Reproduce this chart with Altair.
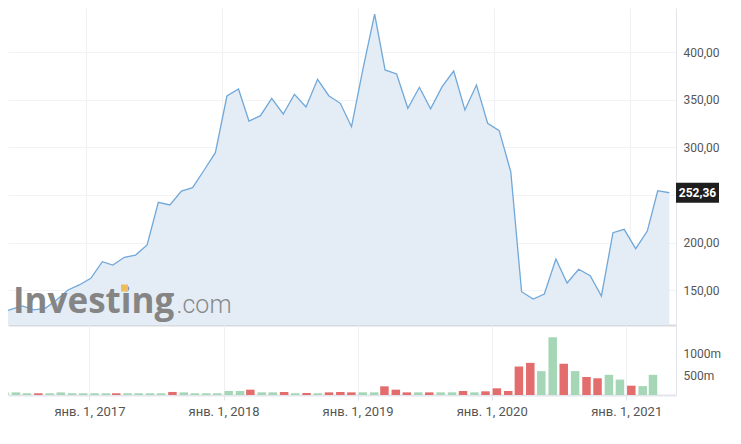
import altair as alt
import pandas as pd

# Monthly observations (mid-month)
dates = [
    "2016-05-15", "2016-06-15", "2016-07-15", "2016-08-15", "2016-09-15", "2016-10-15",
    "2016-11-15", "2016-12-15",
    "2017-01-15", "2017-02-15", "2017-03-15", "2017-04-15", "2017-05-15", "2017-06-15",
    "2017-07-15", "2017-08-15", "2017-09-15", "2017-10-15", "2017-11-15", "2017-12-15",
    "2018-01-15", "2018-02-15", "2018-03-15", "2018-04-15", "2018-05-15", "2018-06-15",
    "2018-07-15", "2018-08-15", "2018-09-15", "2018-10-15", "2018-11-15", "2018-12-15",
    "2019-01-15", "2019-02-15", "2019-03-15", "2019-04-15", "2019-05-15", "2019-06-15",
    "2019-07-15", "2019-08-15", "2019-09-15", "2019-10-15", "2019-11-15", "2019-12-15",
    "2020-01-15", "2020-02-15", "2020-03-15", "2020-04-15", "2020-05-15", "2020-06-15",
    "2020-07-15", "2020-08-15", "2020-09-15", "2020-10-15", "2020-11-15", "2020-12-15",
    "2021-01-15", "2021-02-15", "2021-03-15", "2021-04-15",
]

price = [
    125.5, 129.7, 133.2, 129.0, 130.7, 139.5, 150.0, 155.3,
    162.3, 179.8, 176.3, 184.4, 186.8, 197.4, 242.3, 239.5, 254.2, 257.7, 276.3, 294.5,
    354.2, 361.6, 327.9, 333.5, 351.8, 335.3, 356.0, 342.6, 371.8, 354.5, 346.5, 321.9,
    383.4, 440.5, 381.6, 377.4, 341.3, 363.4, 340.8, 364.0, 380.5, 339.5, 365.8, 325.5,
    317.7, 274.5, 148.2, 140.5, 145.8, 182.6, 157.4, 171.8, 165.0, 143.7, 210.3, 213.8,
    193.5, 212.0, 254.5, 252.36,
]

# Volume in millions (no bar for the current month)
volume_m = [
    60, 60, 40, 40, 40, 60, 40, 40,
    40, 40, 40, 40, 40, 40, 40, 70, 60, 40, 40, 40,
    92, 92, 123, 61, 61, 69, 40, 46, 40, 61, 69, 61,
    61, 61, 200, 123, 61, 61, 61, 61, 61, 92, 61, 85,
    154, 92, 655, 740, 550, 1330, 720, 550, 415, 385, 465, 355,
    215, 205, 465,
]

direction = [
    "u", "u", "u", "d", "u", "u", "u", "u",
    "u", "u", "d", "u", "u", "u", "u", "d", "u", "u", "u", "u",
    "u", "u", "d", "u", "u", "d", "u", "d", "u", "d", "d", "d",
    "u", "u", "d", "d", "d", "u", "d", "u", "u", "d", "u", "d",
    "d", "d", "d", "d", "u", "u", "d", "u", "d", "d", "u", "u",
    "d", "u", "u",
]

tick_years = [2017, 2018, 2019, 2020, 2021]
price_ticks = [150, 200, 250, 300, 350, 400]
volume_ticks = [500, 1000]
last_label = "252,36"

price_df = pd.DataFrame({"date": dates, "price": price})
vol_df = pd.DataFrame({"date": dates[:len(volume_m)], "vol": volume_m, "dir": direction})
box_df = pd.DataFrame({"price": [price[-1]], "lbl": [last_label]})

PRICE_MIN, PRICE_MAX = 113.16, 446.84
W = 668

x_scale = alt.Scale(
    type="utc",
    domain=[alt.DateTime(year=2016, month=6, date=7, utc=True),
            alt.DateTime(year=2021, month=5, date=3, utc=True)],
)
tick_vals = [alt.DateTime(year=y, month=1, date=1, utc=True) for y in tick_years]

top_x_axis = alt.Axis(values=tick_vals, grid=True, gridColor="#eef0f3", labels=False,
                      ticks=False, domain=True, domainColor="#d8dade", domainWidth=2, title=None)
bot_x_axis = alt.Axis(values=tick_vals, grid=True, gridColor="#eef0f3", ticks=True, tickSize=5,
                      tickColor="#dfe2e8", domain=True, domainColor="#e3e6ec", domainWidth=2,
                      labelFontSize=13, labelPadding=5, title=None,
                      labelExpr="'янв. 1, ' + utcFormat(datum.value, '%Y')")

y_scale = alt.Scale(domain=[PRICE_MIN, PRICE_MAX], nice=False, zero=False)
y_axis = alt.Axis(orient="right", values=price_ticks, grid=True, gridColor="#f2f3f5",
                  ticks=False, domain=True, domainColor="#e3e5ea", labelPadding=7,
                  labelFontSize=12, title=None,
                  labelExpr="datum.value == 250 ? '' : replace(format(datum.value, '.2f'), '.', ',')")

xe = alt.X("date:T", scale=x_scale, axis=top_x_axis)
ye = alt.Y("price:Q", scale=y_scale, axis=y_axis)

area = alt.Chart(price_df).mark_area(color="#e4edf6", clip=True).encode(
    x=xe, y=ye, y2=alt.datum(PRICE_MIN))
line = alt.Chart(price_df).mark_line(color="#70a8d9", strokeWidth=1.3, clip=True).encode(
    x=xe, y=ye)

wm1 = alt.Chart(pd.DataFrame({"t": ["Investing"]})).mark_text(
    align="left", baseline="alphabetic", font="Open Sans", fontSize=35, fontWeight="bold",
    color="#858585").encode(text="t:N", x=alt.value(5), y=alt.value(305))
wm2 = alt.Chart(pd.DataFrame({"t": [".com"]})).mark_text(
    align="left", baseline="alphabetic", font="Roboto", fontSize=25, fontWeight=300,
    color="#8a8a8a").encode(text="t:N", x=alt.value(168.5), y=alt.value(305))
dot = alt.Chart(pd.DataFrame({"t": ["dot"]})).mark_point(
    shape="square", filled=True, size=49, color="#f0bd5c", opacity=1).encode(
    x=alt.value(116.5), y=alt.value(280))

box = alt.Chart(box_df).mark_rect(color="#1e1e1e", yOffset=-10, y2Offset=10).encode(
    x=alt.value(W), x2=alt.value(W + 43), y=ye, y2="price:Q")
box_txt = alt.Chart(box_df).mark_text(color="white", fontSize=12, fontWeight="bold",
                                      font="Roboto", align="center", baseline="middle").encode(
    text="lbl:N", x=alt.value(W + 21.5), y=ye)

top = alt.layer(area, line, wm1, wm2, dot, box, box_txt).properties(width=W, height=317)

vol_axis = alt.Axis(orient="right", values=volume_ticks, grid=False, ticks=False, domain=True,
                    domainColor="#e3e5ea", labelPadding=7, labelFontSize=12, labelOffset=2,
                    title=None, labelExpr="datum.value + 'm'")

bars = alt.Chart(vol_df).mark_bar(width=8.5, clip=True).encode(
    x=alt.X("date:T", scale=x_scale, axis=bot_x_axis),
    y=alt.Y("vol:Q", scale=alt.Scale(domain=[0, 1613], nice=False), axis=vol_axis),
    color=alt.Color("dir:N", scale=alt.Scale(domain=["u", "d"], range=["#a5d6b5", "#e36d6d"]),
                    legend=None),
).properties(width=W, height=70)

chart = alt.vconcat(top, bars, spacing=0).properties(
    padding={"left": 0, "top": 0, "right": 5, "bottom": 5}
).configure_view(strokeWidth=0).configure_axis(labelFont="Roboto", labelColor="#555555")

chart.save("out.html", embed_options={"renderer": "svg", "actions": False})
